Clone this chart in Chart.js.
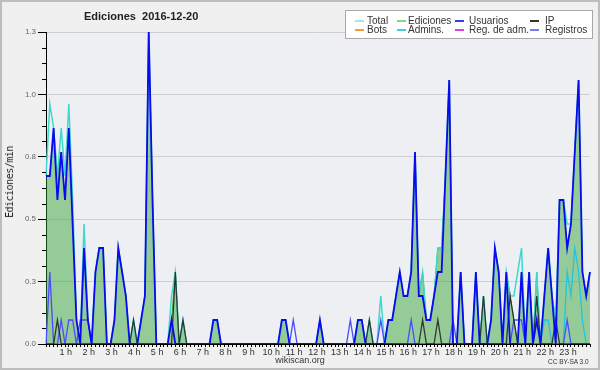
<!doctype html>
<html lang="es">
<head>
    <meta charset="utf-8">
    <title>Ediciones 2016-12-20</title>
    <script src="https://cdn.jsdelivr.net/npm/chart.js"></script>
    <style>
        body { margin: 0; background: #f0f0f0; }
        #wrap { position: relative; width: 600px; height: 370px; background: #f0f0f0; overflow: hidden;
                font-family: "Liberation Sans", Arial, sans-serif; color: #333; }
        #frame { position: absolute; left: 0; top: 0; width: 600px; height: 370px; box-sizing: border-box;
                 border: 2px solid #bdbdbd; pointer-events: none; }
        .txt { position: absolute; white-space: nowrap; line-height: 1; }
        #title { left: 84px; top: 11px; font-weight: bold; font-size: 11px; color: #222; }
        #ytitle { left: 10px; top: 182px; font-family: "DejaVu Sans Mono", monospace; font-size: 10px;
                  letter-spacing: -0.5px; transform: translate(-50%, -50%) rotate(-90deg); color: #222; }
        #site { left: 300px; top: 356px; font-size: 9px; transform: translateX(-50%); }
        #lic { left: 548px; top: 359px; font-size: 6.5px; }
        #legend { position: absolute; left: 345px; top: 10px; width: 246px; height: 27px; background: #fff;
                  border: 1px solid #a8a8a8; }
        .sw { position: absolute; height: 2px; width: 9px; }
        .lt { position: absolute; font-size: 10px; line-height: 1; }
    </style>
</head>
<body>
<div id="wrap">
    <canvas id="chart" width="600" height="370"></canvas>
    <div id="title" class="txt">Ediciones&nbsp;&nbsp;2016-12-20</div>
    <div id="ytitle" class="txt">Ediciones/min</div>
    <div id="site" class="txt">wikiscan.org</div>
    <div id="lic" class="txt">CC BY-SA 3.0</div>
    <div id="legend"></div>
    <div id="frame"></div>
</div>
<script>
    // DATA - one value every 10 minutes, 00:00 .. 23:50
    const total = [
        0.7, 1.0, 0.9, 0.7, 0.9, 0.7, 1.0, 0.6, 0.1, 0, 0.5, 0.1,
        0, 0.3, 0.4, 0.4, 0, 0, 0.1, 0.4, 0.3, 0.2, 0, 0.1,
        0, 0.1, 0.2, 1.3, 0.6, 0, 0, 0, 0, 0.2, 0.3, 0,
        0.1, 0, 0, 0, 0, 0, 0, 0, 0.1, 0.1, 0, 0,
        0, 0, 0, 0, 0, 0, 0, 0, 0, 0, 0, 0,
        0, 0, 0.1, 0.1, 0, 0, 0, 0, 0, 0, 0, 0,
        0.1, 0, 0, 0, 0, 0, 0, 0, 0, 0, 0.1, 0.1,
        0, 0.1, 0, 0, 0.2, 0, 0.1, 0.1, 0.2, 0.3, 0.2, 0.2,
        0.3, 0.8, 0.2, 0.3, 0.1, 0.1, 0.2, 0.4, 0.4, 0.7, 1.1, 0,
        0, 0.3, 0, 0, 0, 0.3, 0, 0.2, 0, 0.1, 0.4, 0.3,
        0, 0.3, 0.2, 0.2, 0.3, 0.4, 0, 0.3, 0, 0.3, 0, 0.2,
        0.4, 0.2, 0.1, 0.6, 0.6, 0.5, 0.5, 0.8, 1.1, 0.3, 0.2, 0.3
    ];
    const ediciones = [
        0.7, 0.7, 0.9, 0.7, 0.8, 0.6, 0.9, 0.5, 0.1, 0, 0.4, 0.1,
        0, 0.3, 0.4, 0.4, 0, 0, 0.1, 0.4, 0.3, 0.2, 0, 0.1,
        0, 0.1, 0.2, 1.3, 0.6, 0, 0, 0, 0, 0.1, 0.3, 0,
        0.1, 0, 0, 0, 0, 0, 0, 0, 0.1, 0.1, 0, 0,
        0, 0, 0, 0, 0, 0, 0, 0, 0, 0, 0, 0,
        0, 0, 0.1, 0.1, 0, 0, 0, 0, 0, 0, 0, 0,
        0.1, 0, 0, 0, 0, 0, 0, 0, 0, 0, 0.1, 0.1,
        0, 0.1, 0, 0, 0, 0, 0.1, 0.1, 0.2, 0.3, 0.2, 0.2,
        0.3, 0.8, 0.2, 0.3, 0.1, 0.1, 0.2, 0.4, 0.4, 0.7, 1.1, 0,
        0, 0.3, 0, 0, 0, 0.3, 0, 0.2, 0, 0.1, 0.4, 0.3,
        0, 0.3, 0.2, 0.1, 0, 0.3, 0, 0.3, 0, 0.3, 0, 0.2,
        0.4, 0.2, 0.1, 0.6, 0.6, 0.4, 0.5, 0.8, 1.1, 0.3, 0.2, 0.3
    ];
    const usuarios = [
        0.7, 0.7, 0.9, 0.6, 0.8, 0.6, 0.9, 0.5, 0.1, 0, 0.4, 0.1,
        0, 0.3, 0.4, 0.4, 0, 0, 0.1, 0.4, 0.3, 0.2, 0, 0,
        0, 0.1, 0.2, 1.3, 0.6, 0, 0, 0, 0, 0.1, 0, 0,
        0, 0, 0, 0, 0, 0, 0, 0, 0.1, 0.1, 0, 0,
        0, 0, 0, 0, 0, 0, 0, 0, 0, 0, 0, 0,
        0, 0, 0.1, 0.1, 0, 0, 0, 0, 0, 0, 0, 0,
        0.1, 0, 0, 0, 0, 0, 0, 0, 0, 0, 0.1, 0.1,
        0, 0, 0, 0, 0, 0, 0.1, 0.1, 0.2, 0.3, 0.2, 0.2,
        0.3, 0.8, 0.2, 0.2, 0.1, 0.1, 0.2, 0.3, 0.3, 0.7, 1.1, 0,
        0, 0.3, 0, 0, 0, 0.3, 0, 0, 0, 0.1, 0.4, 0.3,
        0, 0.3, 0, 0, 0, 0.3, 0, 0.3, 0, 0.1, 0, 0.2,
        0.4, 0.2, 0, 0.6, 0.6, 0.4, 0.5, 0.8, 1.1, 0.3, 0.2, 0.3
    ];
    const ip = [
        0, 0, 0, 0.1, 0, 0, 0, 0, 0, 0, 0, 0,
        0, 0, 0, 0, 0, 0, 0, 0, 0, 0, 0, 0.1,
        0, 0, 0, 0, 0, 0, 0, 0, 0, 0, 0.3, 0,
        0.1, 0, 0, 0, 0, 0, 0, 0, 0, 0, 0, 0,
        0, 0, 0, 0, 0, 0, 0, 0, 0, 0, 0, 0,
        0, 0, 0, 0, 0, 0, 0, 0, 0, 0, 0, 0,
        0, 0, 0, 0, 0, 0, 0, 0, 0, 0, 0, 0,
        0, 0.1, 0, 0, 0, 0, 0, 0, 0, 0, 0, 0,
        0, 0, 0, 0.1, 0, 0, 0, 0.1, 0, 0, 0, 0,
        0, 0, 0, 0, 0, 0, 0, 0.2, 0, 0, 0, 0,
        0, 0, 0.2, 0.1, 0, 0, 0, 0, 0, 0.2, 0, 0,
        0, 0, 0.1, 0, 0, 0, 0, 0, 0, 0, 0, 0
    ];
    const admins = [
        0, 0, 0, 0, 0, 0, 0, 0, 0, 0, 0, 0,
        0, 0, 0, 0, 0, 0, 0, 0, 0, 0, 0, 0,
        0, 0, 0, 0, 0, 0, 0, 0, 0, 0, 0, 0,
        0, 0, 0, 0, 0, 0, 0, 0, 0, 0, 0, 0,
        0, 0, 0, 0, 0, 0, 0, 0, 0, 0, 0, 0,
        0, 0, 0, 0, 0, 0, 0, 0, 0, 0, 0, 0,
        0, 0, 0, 0, 0, 0, 0, 0, 0, 0, 0, 0,
        0, 0, 0, 0, 0, 0, 0, 0, 0, 0, 0, 0,
        0, 0, 0, 0, 0, 0, 0, 0, 0, 0, 0, 0,
        0, 0, 0, 0, 0, 0, 0, 0, 0, 0, 0, 0,
        0, 0, 0, 0, 0, 0, 0, 0, 0, 0, 0, 0.1,
        0.1, 0, 0, 0, 0, 0.3, 0.2, 0.4, 0.3, 0.1, 0, 0
    ];
    const registros = [
        0, 0.3, 0, 0, 0.1, 0, 0.1, 0.1, 0, 0.1, 0.1, 0.1,
        0, 0, 0, 0, 0, 0, 0, 0, 0, 0, 0, 0,
        0, 0, 0, 0, 0, 0, 0, 0, 0, 0, 0, 0,
        0, 0, 0, 0, 0, 0, 0, 0, 0, 0, 0, 0,
        0, 0, 0, 0, 0, 0, 0, 0, 0, 0, 0, 0,
        0, 0, 0, 0, 0, 0.1, 0, 0, 0, 0, 0, 0,
        0, 0, 0, 0, 0, 0, 0, 0, 0.1, 0, 0, 0,
        0, 0, 0, 0, 0.1, 0, 0, 0, 0, 0, 0, 0,
        0.1, 0, 0, 0, 0, 0, 0, 0, 0, 0, 0, 0.1,
        0, 0, 0, 0, 0, 0, 0, 0, 0, 0, 0, 0,
        0, 0, 0, 0.1, 0.1, 0.1, 0, 0, 0, 0, 0, 0,
        0, 0, 0, 0, 0, 0.1, 0, 0, 0, 0, 0, 0
    ];

    // AXES
    const yTickValues = [0, 0.26, 0.52, 0.78, 1.04, 1.3];
    const hourLabels = ['1 h', '2 h', '3 h', '4 h', '5 h', '6 h', '7 h', '8 h', '9 h', '10 h', '11 h', '12 h',
        '13 h', '14 h', '15 h', '16 h', '17 h', '18 h', '19 h', '20 h', '21 h', '22 h', '23 h'];

    // LEGEND
    const legendNames = ['Total', 'Ediciones', 'Usuarios', 'IP', 'Bots', 'Admins.', 'Reg. de adm.', 'Registros'];
    const legendColors = ['#a6e6e6', '#86d486', '#3a3ae6', '#333333', '#f5a030', '#40cde0', '#e040e0', '#7878f0'];
    const legendCols = [[355, 367], [397, 408], [455, 469], [530, 545]];

    const legend = document.getElementById('legend');
    legendNames.forEach((name, i) => {
        const col = legendCols[i % 4];
        const top = i < 4 ? 9 : 18;
        const sw = document.createElement('div');
        sw.className = 'sw';
        sw.style.left = (col[0] - 346) + 'px';
        sw.style.top = top + 'px';
        sw.style.background = legendColors[i];
        legend.appendChild(sw);
        const t = document.createElement('div');
        t.className = 'lt';
        t.style.left = (col[1] - 346) + 'px';
        t.style.top = (top - 4) + 'px';
        t.textContent = name;
        legend.appendChild(t);
    });

    const labels = [];
    for (let i = 0; i < total.length; i++) {
        labels.push(Math.floor(i / 6) + ':' + (i % 6) + '0');
    }

    const fontFamily = '"Liberation Sans", Arial, sans-serif';

    // plot area background + minor y ticks
    const plotDecor = {
        id: 'plotDecor',
        beforeDraw(chart) {
            const {ctx, chartArea: a} = chart;
            ctx.save();
            ctx.fillStyle = '#edeff2';
            ctx.fillRect(a.left, a.top, a.right - a.left, a.bottom - a.top);
            ctx.restore();
        },
        afterDraw(chart) {
            const {ctx, chartArea: a, scales} = chart;
            ctx.save();
            ctx.strokeStyle = '#000';
            ctx.lineWidth = 1;
            ctx.beginPath();
            for (let k = 0; k < yTickValues.length - 1; k++) {
                const step = (yTickValues[k + 1] - yTickValues[k]) / 4;
                for (let m = 1; m < 4; m++) {
                    const y = Math.round(scales.y.getPixelForValue(yTickValues[k] + step * m)) + 0.5;
                    ctx.moveTo(a.left - 4, y);
                    ctx.lineTo(a.left, y);
                }
            }
            ctx.stroke();
            ctx.restore();
        }
    };

    function line(label, data, color, width) {
        return {label, data, borderColor: color, borderWidth: width, pointRadius: 0, tension: 0, fill: false};
    }

    new Chart(document.getElementById('chart'), {
        type: 'line',
        plugins: [plotDecor],
        data: {
            labels: labels,
            datasets: [
                line('Usuarios', usuarios, '#0a0aee', 1.8),
                line('IP', ip, 'rgba(30,30,30,0.85)', 1.3),
                line('Registros', registros, '#4b4bff', 1.3),
                line('Admins.', admins, '#22c4df', 1.3),
                line('Total', total, '#3fd8cc', 1.5),
                {
                    label: 'Ediciones', data: ediciones, borderColor: '#35b035', borderWidth: 1,
                    backgroundColor: 'rgba(40,160,40,0.45)', fill: 'origin', pointRadius: 0, tension: 0
                }
            ]
        },
        options: {
            responsive: false,
            animation: false,
            devicePixelRatio: 1,
            layout: {padding: {top: 32, right: 10, left: 0, bottom: 0}},
            plugins: {legend: {display: false}, tooltip: {enabled: false}},
            scales: {
                x: {
                    ticks: {
                        autoSkip: false, maxRotation: 0, minRotation: 0, padding: 0, labelOffset: -3,
                        color: '#333', font: {family: fontFamily, size: 9},
                        callback: (v, i) => (i % 6 === 0 && i > 0) ? hourLabels[i / 6 - 1] : ''
                    },
                    grid: {drawOnChartArea: false, tickLength: 3, tickColor: '#000'},
                    border: {color: '#000'},
                    afterFit(scale) { scale.height = 26; }
                },
                y: {
                    min: 0,
                    max: 1.3,
                    afterBuildTicks(scale) { scale.ticks = yTickValues.map(v => ({value: v})); },
                    ticks: {
                        autoSkip: false, padding: 2, color: '#666', font: {family: fontFamily, size: 8},
                        callback: v => v.toFixed(1)
                    },
                    grid: {color: '#cfcfcf', tickColor: '#000', tickLength: 8},
                    border: {color: '#000'},
                    afterFit(scale) { scale.width = 46; }
                }
            }
        }
    });
</script>
</body>
</html>
